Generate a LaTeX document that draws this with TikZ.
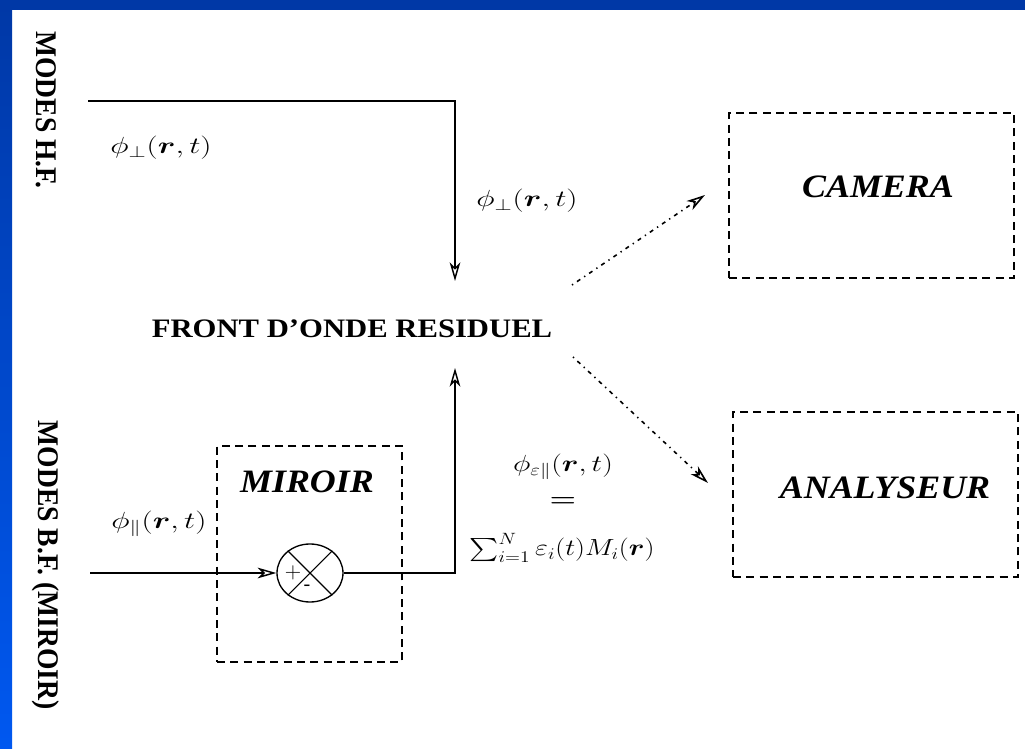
\RequirePackage{fix-cm}
\documentclass[tikz,border=0pt]{standalone}
\usepackage{amsmath}
\usepackage{fontspec}
\setmainfont{Liberation Serif}
\usetikzlibrary{arrows.meta,shapes.geometric}
\definecolor{frametop}{RGB}{0,56,166}
\definecolor{framebot}{RGB}{0,88,240}
\begin{document}
\begin{tikzpicture}[x=0.75pt,y=-0.75pt,
  side/.style={rotate=-90,inner sep=0pt,font=\fontsize{22.5}{27}\selectfont\bfseries},
  frontlbl/.style={inner sep=0pt,font=\fontsize{20}{24}\selectfont\bfseries},
  ttl/.style={inner sep=0pt,font=\fontsize{24.5}{30}\selectfont\bfseries\itshape},
  mlbl/.style={inner sep=0pt,font=\fontsize{17.5}{21}\selectfont},
  dbox/.style={draw,dash pattern=on 6pt off 4pt,line width=0.9pt,inner sep=0pt},
  wire/.style={line width=1.1pt},
  tip/.style={-{Stealth[open,length=14pt,width=8pt,inset=4pt]}},
  dots/.style={line width=1.2pt,dash pattern=on 1pt off 3.5pt on 3pt off 3.5pt},
  sumj/.style={draw,ellipse,line width=1pt,minimum width=49.5pt,minimum height=43.5pt,inner sep=0pt}]
\useasboundingbox (0,0) rectangle (1025,749);
% frame
\fill[white] (0,0) rectangle (1025,749);
\shade[top color=frametop,bottom color=framebot] (0,0) rectangle (12,749);
\fill[frametop] (0,0) rectangle (1025,10);

% side captions
\node[side] (hf) at (46,110) {\scalebox{0.92}[1]{MODES H.F.}};
\node[side] (bf) at (46,565) {\scalebox{0.92}[1]{MODES B.F. (MIROIR)}};

% central wavefront
\node[frontlbl] (front) at (352,329) {\scalebox{1.15}[1]{FRONT D'ONDE RESIDUEL}};
\coordinate (ftop) at (455,281);
\coordinate (fbot) at (455,368);

% boxes
\node[dbox,minimum width=213.75pt,minimum height=123.75pt] (camera) at (871.5,195.5) {};
\node[ttl] (camtxt) at (878,187) {\scalebox{1.1}[1]{CAMERA}};
\node[dbox,minimum width=213.75pt,minimum height=123.75pt] (analy) at (875.5,494.5) {};
\node[ttl] (anatxt) at (885,488) {\scalebox{1.1}[1]{ANALYSEUR}};
\node[dbox,minimum width=138.75pt,minimum height=162pt] (miroir) at (309.5,554) {};
\node[ttl] (mirtxt) at (307,482) {\scalebox{1.1}[1]{MIROIR}};

% summing junction
\node[sumj] (sum) at (310,573) {};
\draw[line width=0.8pt] (sum.45) -- (sum.225) (sum.135) -- (sum.315);
\node[inner sep=0pt,font=\fontsize{17}{20}\selectfont] (plus) at (293,573) {$+$};
\node[inner sep=0pt,font=\fontsize{15}{18}\selectfont] (minus) at (307,588) {-};

% signals
\coordinate (hfin) at (88,101);
\coordinate (bfin) at (90,573);
\draw[wire,tip] (hfin) -| (ftop);
\draw[wire,tip] (bfin) -- (sum.west);
\draw[wire,tip] (sum.east) -| (fbot);

\coordinate (d1s) at (572,285);
\coordinate (d1e) at (705,195);
\coordinate (d2s) at (573,357);
\coordinate (d2e) at (708,483);
\draw[dots,tip] (d1s) -- (d1e);
\draw[dots,tip] (d2s) -- (d2e);

% labels
\node[mlbl] (lperp1) at (161,148) {\scalebox{1.35}[1]{$\phi_{\perp}(\boldsymbol{r},t)$}};
\node[mlbl] (lperp2) at (527,201) {\scalebox{1.35}[1]{$\phi_{\perp}(\boldsymbol{r},t)$}};
\node[mlbl] (lpar) at (159,524) {\scalebox{1.35}[1]{$\phi_{\parallel}(\boldsymbol{r},t)$}};
\node[mlbl] (leps) at (563,467) {\scalebox{1.28}[1]{$\phi_{\varepsilon\parallel}(\boldsymbol{r},t)$}};
\node[mlbl] (leq) at (563,502) {\scalebox{1.3}[1]{$\boldsymbol{=}$}};
\node[mlbl] (lsum) at (562,548) {\scalebox{1.2}[1]{$\sum_{i=1}^{N}\varepsilon_i(t)M_i(\boldsymbol{r})$}};
\end{tikzpicture}
\end{document}
